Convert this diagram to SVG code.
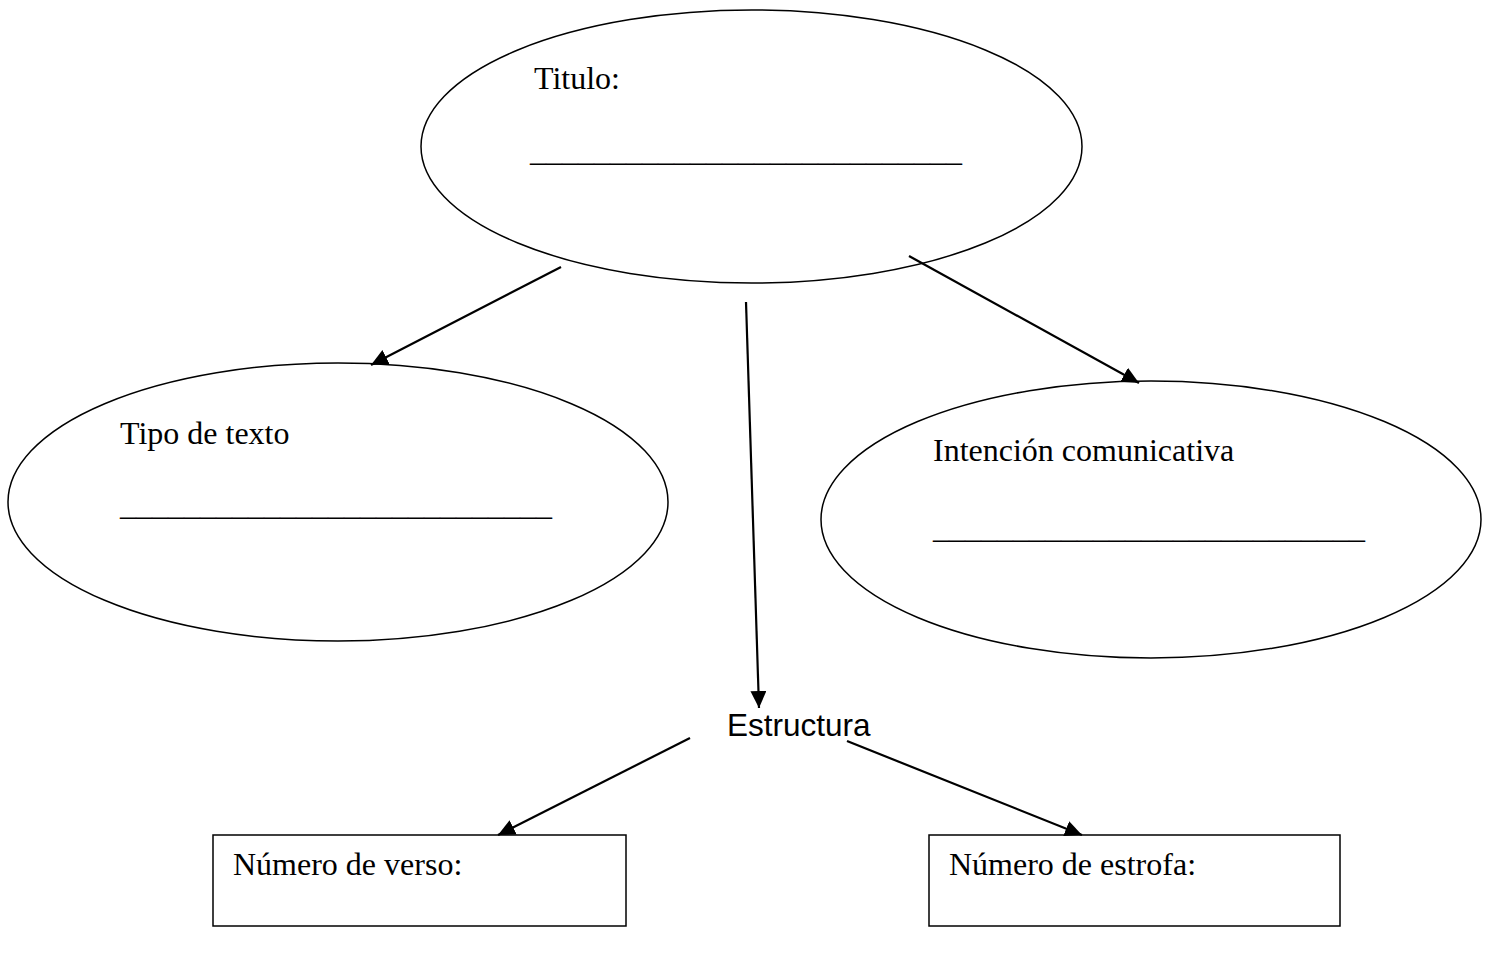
<svg xmlns="http://www.w3.org/2000/svg" width="1491" height="954" viewBox="0 0 1491 954">
<style>
.shape{fill:none;stroke:#000;stroke-width:1.5}
.conn{stroke:#000;stroke-width:2.2;fill:none}
.t{font-family:"Liberation Serif","Times New Roman",serif;font-size:32px;fill:#000}
.a{font-family:"Liberation Sans",Arial,sans-serif;font-size:31.5px;fill:#000}
</style>
<defs>
<marker id="arr" markerUnits="userSpaceOnUse" markerWidth="20" markerHeight="18" refX="17" refY="8" orient="auto">
<path d="M0,0 L17,8 L0,16 Z" fill="#000"/>
</marker>
</defs>
<rect width="1491" height="954" fill="#fff"/>
<g id="titulo">
<ellipse class="shape" cx="751.5" cy="146.5" rx="330.5" ry="136.5"/>
<text class="t" x="534" y="89">Titulo:</text>
<text class="t" x="530" y="161">___________________________</text>
</g>
<g id="tipo">
<ellipse class="shape" cx="338" cy="502" rx="330" ry="139"/>
<text class="t" x="120" y="444">Tipo de texto</text>
<text class="t" x="120" y="515">___________________________</text>
</g>
<g id="intencion">
<ellipse class="shape" cx="1151" cy="519.5" rx="330" ry="138.5"/>
<text class="t" x="933" y="461">Intención comunicativa</text>
<text class="t" x="933" y="538">___________________________</text>
</g>
<g id="estructura">
<text class="a" x="727" y="736">Estructura</text>
</g>
<g id="verso">
<rect class="shape" x="213" y="835" width="413" height="91"/>
<text class="t" x="233" y="875">Número de verso:</text>
</g>
<g id="estrofa">
<rect class="shape" x="929" y="835" width="411" height="91"/>
<text class="t" x="949" y="875">Número de estrofa:</text>
</g>
<g id="connectors">
<line class="conn" x1="561" y1="267" x2="371" y2="365" marker-end="url(#arr)"/>
<line class="conn" x1="746" y1="302" x2="759" y2="708" marker-end="url(#arr)"/>
<line class="conn" x1="909" y1="256" x2="1139" y2="383" marker-end="url(#arr)"/>
<line class="conn" x1="690" y1="738" x2="498" y2="835" marker-end="url(#arr)"/>
<line class="conn" x1="847" y1="741" x2="1082" y2="835" marker-end="url(#arr)"/>
</g>
</svg>
